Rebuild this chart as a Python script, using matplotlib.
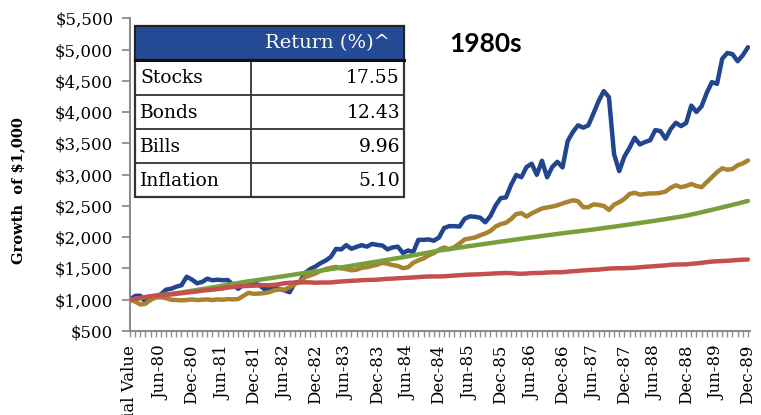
import matplotlib.pyplot as plt
import numpy as np
from matplotlib.patches import Rectangle

# ------- DATA (growth of $1,000, monthly, Dec-79 .. Dec-89) -------

tick_labels = ['Initial Value', 'Jun-80', 'Dec-80', 'Jun-81', 'Dec-81', 'Jun-82',
               'Dec-82', 'Jun-83', 'Dec-83', 'Jun-84', 'Dec-84', 'Jun-85',
               'Dec-85', 'Jun-86', 'Dec-86', 'Jun-87', 'Dec-87', 'Jun-88',
               'Dec-88', 'Jun-89', 'Dec-89']

stocks = [1000,
          1061, 1064, 965, 1000, 1056, 1087, 1161, 1176, 1209, 1232, 1367, 1324,
          1263, 1284, 1337, 1311, 1320, 1312, 1315, 1238, 1175, 1235, 1291, 1259,
          1240, 1175, 1165, 1210, 1170, 1150, 1120, 1270, 1290, 1430, 1490, 1531,
          1585, 1626, 1685, 1813, 1804, 1873, 1815, 1846, 1872, 1849, 1892, 1876,
          1867, 1806, 1836, 1849, 1749, 1787, 1762, 1958, 1958, 1964, 1944, 1994,
          2147, 2177, 2177, 2170, 2296, 2333, 2326, 2312, 2238, 2339, 2507, 2626,
          2636, 2836, 2995, 2959, 3122, 3175, 2997, 3222, 2958, 3124, 3205, 3116,
          3537, 3682, 3789, 3751, 3788, 3978, 4177, 4336, 4240, 3329, 3056, 3288,
          3429, 3590, 3483, 3521, 3549, 3712, 3697, 3575, 3729, 3830, 3776, 3825,
          4104, 4002, 4094, 4307, 4479, 4452, 4853, 4946, 4926, 4813, 4909, 5037]

bonds = [1000,
         970, 925, 935, 1000, 1035, 1040, 1025, 1000, 995, 990, 995, 1005,
         995, 1000, 1005, 995, 1005, 1000, 1010, 1005, 1010, 1060, 1110, 1095,
         1098, 1105, 1120, 1150, 1165, 1160, 1200, 1250, 1290, 1360, 1390, 1420,
         1460, 1490, 1510, 1525, 1500, 1490, 1470, 1480, 1510, 1520, 1540, 1560,
         1590, 1575, 1555, 1540, 1505, 1520, 1590, 1630, 1660, 1710, 1745, 1800,
         1835, 1810, 1840, 1900, 1965, 1980, 1995, 2030, 2060, 2100, 2170, 2210,
         2230, 2290, 2370, 2385, 2330, 2380, 2420, 2460, 2475, 2490, 2510, 2540,
         2565, 2590, 2575, 2480, 2480, 2525, 2515, 2500, 2435, 2520, 2560, 2612,
         2690, 2710, 2680, 2690, 2700, 2700, 2710, 2730, 2790, 2830, 2800, 2818,
         2850, 2820, 2800, 2880, 2960, 3040, 3100, 3080, 3090, 3150, 3180, 3227]

bills = [1000,
         1013, 1026, 1040, 1053, 1064, 1074, 1084, 1094, 1105, 1117, 1130, 1143,
         1156, 1170, 1183, 1197, 1211, 1225, 1239, 1253, 1267, 1281, 1294, 1306,
         1318, 1330, 1342, 1354, 1366, 1378, 1391, 1404, 1417, 1429, 1440, 1451,
         1464, 1477, 1490, 1503, 1516, 1530, 1543, 1557, 1570, 1584, 1597, 1611,
         1625, 1639, 1652, 1666, 1680, 1695, 1710, 1725, 1740, 1755, 1770, 1785,
         1797, 1809, 1822, 1834, 1846, 1859, 1870, 1882, 1893, 1905, 1917, 1929,
         1940, 1952, 1964, 1975, 1986, 1997, 2008, 2019, 2030, 2041, 2052, 2063,
         2073, 2083, 2093, 2103, 2113, 2124, 2135, 2146, 2157, 2168, 2180, 2192,
         2204, 2216, 2228, 2240, 2252, 2264, 2277, 2290, 2303, 2316, 2330, 2344,
         2362, 2380, 2399, 2418, 2437, 2457, 2477, 2497, 2517, 2538, 2559, 2580]

inflation = [1000,
             1014, 1028, 1043, 1055, 1065, 1077, 1078, 1085, 1095, 1104, 1114, 1124,
             1133, 1145, 1153, 1161, 1170, 1180, 1194, 1203, 1215, 1218, 1221, 1224,
             1229, 1233, 1231, 1237, 1249, 1264, 1271, 1274, 1276, 1279, 1277, 1272,
             1275, 1275, 1276, 1285, 1292, 1297, 1302, 1306, 1313, 1316, 1318, 1320,
             1328, 1334, 1337, 1343, 1347, 1352, 1356, 1362, 1368, 1372, 1372, 1372,
             1375, 1381, 1387, 1392, 1398, 1402, 1404, 1407, 1412, 1416, 1421, 1424,
             1428, 1425, 1418, 1415, 1419, 1426, 1427, 1429, 1436, 1438, 1439, 1440,
             1449, 1455, 1461, 1469, 1473, 1479, 1482, 1491, 1498, 1502, 1504, 1504,
             1508, 1511, 1518, 1526, 1531, 1538, 1544, 1549, 1558, 1563, 1564, 1565,
             1574, 1581, 1590, 1601, 1610, 1615, 1619, 1623, 1628, 1636, 1640, 1643]

table_rows = ['Stocks', 'Bonds', 'Bills', 'Inflation']
table_returns = ['17.55', '12.43', '9.96', '5.10']

# ------- FIGURE -------

W, H = 761, 415
fig = plt.figure(figsize=(W / 100, H / 100), dpi=100)


def fx(x):
    return x / W


def fy(y):
    return 1 - y / H


ax = fig.add_axes([fx(130), fy(331), fx(750) - fx(130), fy(18.3) - fy(331)])

x = np.arange(len(stocks))
ax.plot(x, stocks, color='#21458f', lw=3.2, solid_capstyle='round', zorder=3)
ax.plot(x, bonds, color='#a98230', lw=3.2, solid_capstyle='round', zorder=4)
ax.plot(x, bills, color='#77a03c', lw=3.2, solid_capstyle='round', zorder=5)
ax.plot(x, inflation, color='#c4504d', lw=3.2, solid_capstyle='round', zorder=6)

ax.set_xlim(0, 120.4)
ax.set_ylim(500, 5500)

axis_gray = '#8c8c8c'
for s in ['top', 'right']:
    ax.spines[s].set_visible(False)
for s in ['left', 'bottom']:
    ax.spines[s].set_color(axis_gray)
    ax.spines[s].set_linewidth(1.5)

yticks = np.arange(500, 5501, 500)
ax.set_yticks(yticks)
ax.set_yticklabels(['${:,}'.format(v) for v in yticks],
                   fontfamily='DejaVu Serif', fontsize=12)
ax.set_xticks(np.arange(0, 121, 6))
ax.set_xticks(np.arange(0, 121, 1), minor=True)
ax.set_xticklabels(tick_labels, rotation=90, fontfamily='DejaVu Serif',
                   fontsize=12)
ax.tick_params(axis='y', length=6, width=1.3, color=axis_gray, pad=6)
ax.tick_params(axis='x', which='both', length=4, width=1, color=axis_gray,
               pad=6)

# y label sits a bit below the axes centre, as in the original
fig.text(fx(18), fy(191), 'Growth  of $1,000', fontfamily='DejaVu Serif',
         fontweight='bold', fontsize=10.5, rotation=90, ha='center',
         va='center')

fig.text(fx(486), fy(44), '1980s', fontfamily='Lato', fontweight='bold',
         fontsize=19, ha='center', va='center')

# ------- TABLE -------

tl, tr, col = 135, 404, 251
row_y = [26, 60, 94.7, 129, 163, 197]

fig.patches.append(Rectangle((fx(tl), fy(row_y[1])), fx(tr) - fx(tl),
                             fy(row_y[0]) - fy(row_y[1]),
                             transform=fig.transFigure, facecolor='#264b96',
                             edgecolor='#222222', lw=1.6, zorder=10))
fig.patches.append(Rectangle((fx(tl), fy(row_y[-1])), fx(tr) - fx(tl),
                             fy(row_y[1]) - fy(row_y[-1]),
                             transform=fig.transFigure, facecolor='white',
                             edgecolor='#333333', lw=1.6, zorder=10))
for yy in row_y[2:-1]:
    fig.add_artist(plt.Line2D([fx(tl), fx(tr)], [fy(yy), fy(yy)],
                              color='#333333', lw=1.3, zorder=11))
fig.add_artist(plt.Line2D([fx(col), fx(col)], [fy(row_y[1]), fy(row_y[-1])],
                          color='#333333', lw=1.3, zorder=11))
fig.add_artist(plt.Line2D([fx(tl), fx(tr)], [fy(row_y[1]), fy(row_y[1])],
                          color='#111111', lw=2.2, zorder=12))

fig.text(fx((col + tr) / 2), fy(43), 'Return (%)^', color='white',
         fontfamily='DejaVu Serif', fontsize=14, ha='center', va='center',
         zorder=13)
for i, (name, val) in enumerate(zip(table_rows, table_returns)):
    yc = (row_y[i + 1] + row_y[i + 2]) / 2 + 1
    fig.text(fx(140), fy(yc), name, fontfamily='DejaVu Serif', fontsize=13.5,
             ha='left', va='center', zorder=13)
    fig.text(fx(400), fy(yc), val, fontfamily='DejaVu Serif', fontsize=13.5,
             ha='right', va='center', zorder=13)

fig.savefig('out.png', dpi=100)
